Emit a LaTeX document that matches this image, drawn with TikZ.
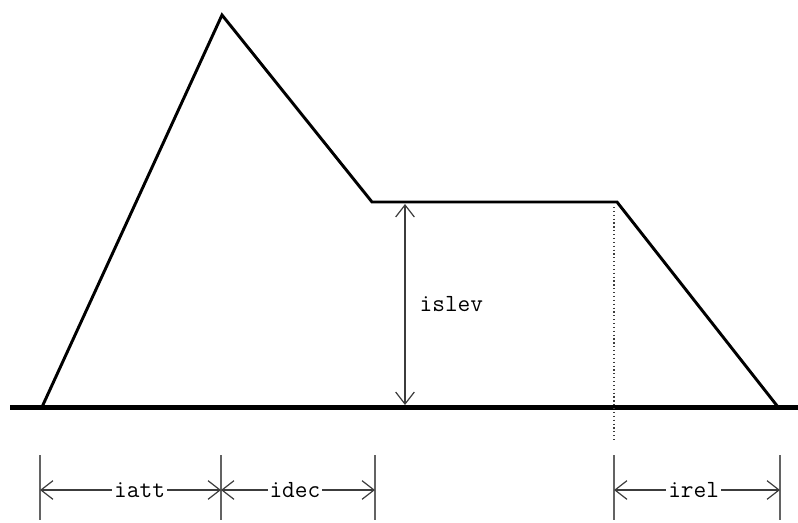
\documentclass[tikz,border=0pt]{standalone}
\usetikzlibrary{arrows.meta}
\definecolor{dimgray}{RGB}{60,60,60}

\begin{document}
\begin{tikzpicture}[x=0.75pt,y=-0.75pt,
    dimline/.style={dimgray, line width=0.9pt, {Straight Barb[length=9pt,width=14pt]}-{Straight Barb[length=9pt,width=14pt]}},
    tickline/.style={dimgray!80, line width=0.9pt},
    lbl/.style={fill=white, text=black, inner sep=1.5pt, font=\ttfamily\fontsize{18.5}{18.5}\selectfont}]
    \useasboundingbox (0,0) rectangle (798,522);
    % envelope corners
    \coordinate (S) at (42,407);
    \coordinate (P) at (222,15);
    \coordinate (D) at (372,202);
    \coordinate (R) at (617,202);
    \coordinate (E) at (778,407);
    \coordinate (L) at (10,407);
    \coordinate (Rt) at (798,407);
    \draw[line width=3.75pt] (L) -- (Rt);
    \draw[line width=2.2pt, line join=miter] (S) -- (P) -- (D) -- (R) -- (E);
    % sustain level
    \coordinate (U) at (405,204);
    \coordinate (B) at (405,405);
    \draw[dimline] (U) -- (B) node[midway, right=9pt, lbl, fill=none] {islev};
    % release marker
    \coordinate (M1) at (614,207);
    \coordinate (M2) at (614,440);
    \draw[dimgray, line width=0.9pt, dotted] (M1) -- (M2);
    % ticks
    \foreach \n/\x in {t1/40, t2/221, t3/375, t4/614, t5/780} {
        \coordinate (\n a) at (\x,455);
        \coordinate (\n b) at (\x,520);
        \coordinate (\n) at (\x,490);
        \draw[tickline] (\n a) -- (\n b);
    }
    \draw[dimline] (t1) -- (t2) node[pos=0.55, lbl] {iatt};
    \draw[dimline] (t2) -- (t3) node[pos=0.48, lbl] {idec};
    \draw[dimline] (t4) -- (t5) node[pos=0.48, lbl] {irel};
\end{tikzpicture}
\end{document}
